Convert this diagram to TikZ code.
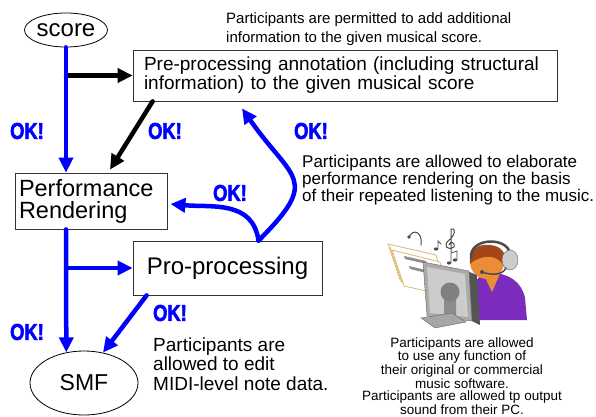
\documentclass[tikz,border=0pt]{standalone}
\usepackage{fontspec}
\setmainfont{Liberation Sans}
\newfontfamily\okfont{Liberation Sans Bold}[FakeStretch=0.8,FakeBold=2.5]
\usepackage{tikz}
\usetikzlibrary{arrows.meta,positioning,shapes.geometric}

\definecolor{sheetline}{RGB}{220,185,110}
\definecolor{hair}{RGB}{165,70,25}
\definecolor{skin}{RGB}{235,140,55}
\definecolor{shirt}{RGB}{125,45,190}
\definecolor{screen}{RGB}{170,170,170}
\definecolor{case}{RGB}{85,85,85}

\begin{document}
\begin{tikzpicture}
		[x=1pt,y=1pt,line cap=round,
		%Styles
		box/.style={draw=black!80,line width=0.8pt,inner sep=0pt},
		blob/.style={draw,ellipse,line width=0.8pt,inner sep=0pt},
		ok/.style={text=blue,font=\okfont\fontsize{23}{23}\selectfont},
		note/.style={align=left,inner sep=0pt},
		flow/.style={blue,line width=4.5pt,-{Triangle[length=15pt,width=14pt]}},
		extra/.style={black,line width=4.5pt,-{Triangle[length=15pt,width=14pt]}}
		]
		
		\useasboundingbox (0,0) rectangle (596,416);
		
		%The stages
		\node[blob,minimum width=80pt,minimum height=34pt,font=\fontsize{24}{24}\selectfont] (score) at (66,386) {score};
		\node[box,text width=402pt,inner xsep=11pt,minimum height=51pt,align=left,font=\fontsize{19}{19}\selectfont] (preproc) at (345,340.5) {Pre-processing annotation (including structural\\information) to the given musical score};
		\node[box,text width=144pt,inner xsep=4pt,minimum height=56pt,align=left,font=\fontsize{23.5}{22}\selectfont] (perf) at (91,215) {Performance\\Rendering};
		\node[box,minimum width=189pt,minimum height=54pt,font=\fontsize{24}{24}\selectfont] (proproc) at (227.5,148) {Pro-processing};
		\node[blob,minimum width=108pt,minimum height=64pt,font=\fontsize{23}{23}\selectfont] (smf) at (84,33) {SMF};
		
		%Arrows
		\draw[extra] (score |- preproc.west) -- (preproc.west);
		\draw[extra] ([xshift=20pt]preproc.south west) -- ([shift={(19pt,3pt)}]perf.north);
		\draw[flow] (score) -- (score |- perf.north);
		\draw[flow] (score |- proproc.west) -- (proproc.west);
		\draw[flow] (perf.south -| score) -- (smf.120);
		\draw[flow] ([xshift=14pt]proproc.south west) -- (smf.58);
		\coordinate (fork) at ([xshift=31pt]proproc.north);
		\draw[flow] (fork) to[out=98,in=-5,looseness=1.1] ([shift={(3pt,-3pt)}]perf.east);
		\draw[flow] (fork) to[out=45,in=-55,looseness=1.7] ([shift={(-103pt,-7pt)}]preproc.south);
		
		\node[ok] (ok1) at (27,285) {OK!};
		\node[ok] (ok2) at (165,285) {OK!};
		\node[ok] (ok3) at (311,285) {OK!};
		\node[ok] (ok4) at (230,223) {OK!};
		\node[ok] (ok5) at (27,84) {OK!};
		\node[ok] (ok6) at (170,103) {OK!};
		
		%Notes
		\node[note,anchor=west,font=\fontsize{15}{19}\selectfont] (permit) at (226,386.5) {Participants are permitted to add additional\\information to the given musical score.};
		\node[note,anchor=west,font=\fontsize{17}{17}\selectfont] (listen) at (302,236) {Participants are allowed to elaborate\\performance rendering on the basis\\of their repeated listening to the music.};
		\node[note,anchor=west,font=\fontsize{19}{19.5}\selectfont] (edit) at (153,52) {Participants are\\allowed to edit\\MIDI-level note data.};
		\node[note,align=center,font=\fontsize{13.5}{12.5}\selectfont] (software) at (462,40) {Participants are allowed\\to use any function of\\their original or commercial\\music software.\\Participants are allowed tp output\\sound from their PC.};
		
		%The listener at the PC
		\begin{scope}[shift={(0,416)},yscale=-1]
			% sheets
			\filldraw[draw=sheetline,fill=white,line width=0.8pt] (388,244) -- (436,255) -- (446,290) -- (400,280) -- cycle;
			\filldraw[draw=sheetline,fill=white,line width=0.8pt] (392,250) -- (440,262) -- (448,296) -- (404,286) -- cycle;
			\draw[sheetline,line width=0.8pt] (390,247) -- (402,283);
			\fill[black!45] (404,256) -- (426,261) -- (427,264) -- (405,259) -- cycle;
			\fill[black!45] (409,266) -- (430,271) -- (431,274) -- (410,269) -- cycle;
			% notes
			\draw[black!70,line width=1pt] (409,237) .. controls (413,228) and (423,232) .. (421,245);
			\fill[black!70] (409,237) circle (1.8);
			\draw[black!70,line width=1pt] (451,252) -- (451,229) .. controls (456,227) and (456,235) .. (448,241) .. controls (443,246) and (448,251) .. (454,247) .. controls (456,243) and (450,240) .. (449,245);
			\fill[black!70] (436,249) ellipse (2.2 and 1.6);
			\draw[black!70,line width=0.8pt] (438,249) -- (438,241) -- (441,244);
			\fill[black!70] (449,263) ellipse (2.2 and 1.6);
			\fill[black!70] (455,260) ellipse (2.2 and 1.6);
			\draw[black!70,line width=0.8pt] (451,263) -- (451,253) -- (457,251) -- (457,260);
			% person
			\fill[shirt] (473,320) -- (473,290) .. controls (474,279) and (482,273) .. (492,273) .. controls (508,273) and (522,282) .. (525,298) -- (527,320) -- cycle;
			\fill[skin] (482,271) -- (501,271) -- (492,292) -- cycle;
			\fill[skin] (487,262) ellipse (17 and 17);
			\fill[hair] (470,264) .. controls (468,246) and (482,244) .. (490,245) .. controls (502,246) and (508,254) .. (505,268) .. controls (500,258) and (492,256) .. (485,257) .. controls (478,258) and (473,261) .. (470,264) -- cycle;
			\draw[black!70,line width=2.5pt] (471,258) .. controls (469,238) and (506,236) .. (510,253);
			\filldraw[draw=black!60,fill=black!20] (510,260) ellipse (8 and 10);
			\draw[black!70,line width=1.5pt] (506,268) .. controls (502,276) and (490,275) .. (482,272);
			\fill[black!70] (482,272) circle (2);
			% monitor
			\fill[case] (467,271) -- (477,275) -- (480,325) -- (472,321) -- cycle;
			\filldraw[draw=black!60,fill=screen] (423,262) -- (469,271) -- (472,321) -- (427,316) -- cycle;
			\fill[black!20] (427,267) -- (465,274) -- (468,317) -- (430,313) -- cycle;
			\fill[black!45] (444,292) -- (456,294) -- (456,316) -- (444,314) -- cycle;
			\fill[black!50] (450,292) circle (9.5);
			\filldraw[draw=black!60,fill=black!35] (421,318) -- (452,313) -- (466,322) -- (435,328) -- cycle;
		\end{scope}
	\end{tikzpicture}
\end{document}
